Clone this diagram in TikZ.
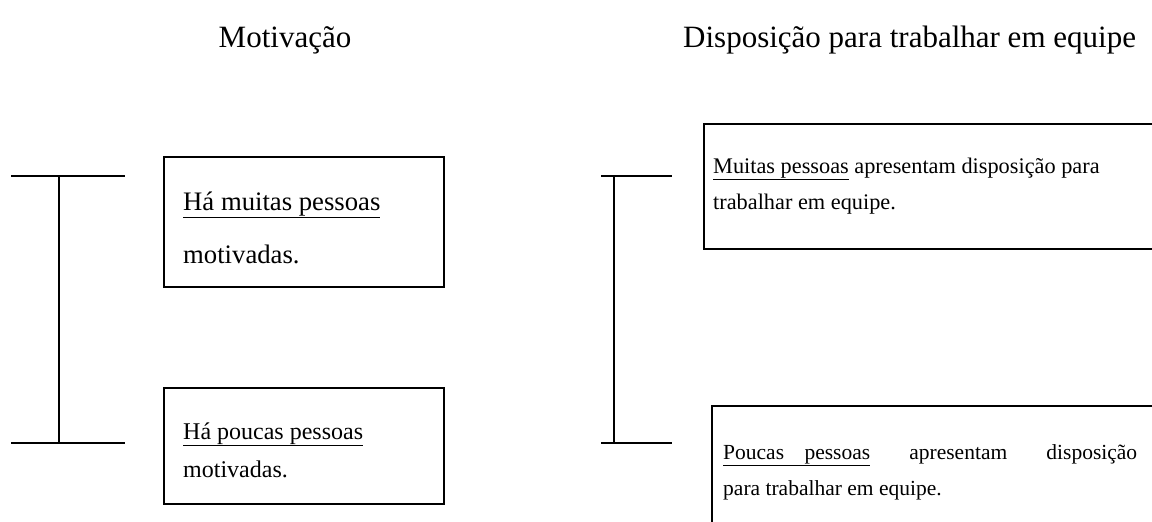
\documentclass[tikz,border=0pt]{standalone}
\usepackage{fontspec}
\setmainfont{Liberation Serif}
\tikzset{
  px/.style={x=1pt,y=-1pt},
  boxshape/.style={draw=black,line width=1.6pt,rectangle,inner sep=0pt,anchor=north west},
  rule/.style={draw=black,line width=1.6pt},
  ttl/.style={anchor=base,inner sep=0pt,font=\fontsize{31}{36}\selectfont},
  txt/.style={anchor=base west,inner sep=0pt},
}
\begin{document}
\begin{tikzpicture}[px]
\useasboundingbox (0,0) rectangle (1152,522);
\clip (0,0) rectangle (1152,522);
% titles
\node[ttl] (t1) at (285,47) {Motivação};
\node[ttl,anchor=base west] (t2) at (683,47) {Disposição para trabalhar em equipe};
% left bracket
\coordinate (la) at (11,176); \coordinate (lb) at (125,176);
\coordinate (lc) at (11,443); \coordinate (ld) at (125,443);
\coordinate (lt) at (59,176); \coordinate (lbm) at (59,443);
\draw[rule] (la) -- (lb);
\draw[rule] (lc) -- (ld);
\draw[rule] (lt) -- (lbm);
% right bracket
\coordinate (ra) at (601,176); \coordinate (rb) at (672,176);
\coordinate (rc) at (601,443); \coordinate (rd) at (672,443);
\coordinate (rt) at (614,176); \coordinate (rbm) at (614,443);
\draw[rule] (ra) -- (rb);
\draw[rule] (rc) -- (rd);
\draw[rule] (rt) -- (rbm);
% left boxes
\node[boxshape,minimum width=280pt,minimum height=130pt] (b1) at (163,156) {};
\node[txt,font=\fontsize{26.7}{30}\selectfont] (b1a) at (183,210) {\underline{Há muitas pessoas}};
\node[txt,font=\fontsize{26.7}{30}\selectfont] (b1b) at (183,263) {motivadas.};
\node[boxshape,minimum width=280pt,minimum height=116pt] (b2) at (163,387) {};
\node[txt,font=\fontsize{24}{28}\selectfont] (b2a) at (183,439) {\underline{Há poucas pessoas}};
\node[txt,font=\fontsize{24}{28}\selectfont] (b2b) at (183,477) {motivadas.};
% right boxes
\node[boxshape,minimum width=470pt,minimum height=125pt] (b3) at (703,123) {};
\node[txt,font=\fontsize{22.3}{26}\selectfont] (b3a) at (713,173) {\underline{Muitas pessoas} apresentam disposição para};
\node[txt,font=\fontsize{22.3}{26}\selectfont] (b3b) at (713,209) {trabalhar em equipe.};
\node[boxshape,minimum width=470pt,minimum height=140pt] (b4) at (711,405) {};
\node[txt,font=\fontsize{21.5}{26}\selectfont] (b4a) at (723,459) {\hbox to 414pt{\underline{\hbox to 147pt{Poucas\hfill pessoas}}\hfill apresentam\hfill disposição}};
\node[txt,font=\fontsize{21.5}{26}\selectfont] (b4b) at (723,495) {para trabalhar em equipe.};
\end{tikzpicture}
\end{document}
